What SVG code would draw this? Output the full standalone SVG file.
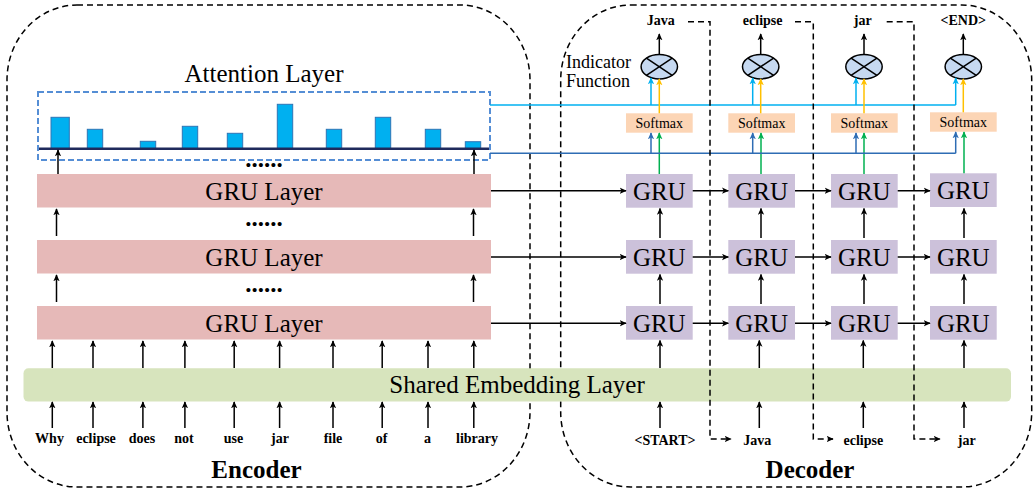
<svg xmlns="http://www.w3.org/2000/svg" width="1036" height="493" viewBox="0 0 1036 493">
<defs>
<style>
.t{font-family:"Liberation Serif","Times New Roman",serif;fill:#000}
.lay{font-size:25px;text-anchor:middle}
.w{font-size:14px;font-weight:bold;text-anchor:middle}
.sm{font-size:14px;text-anchor:middle}
.big{font-size:25px;font-weight:bold;text-anchor:middle}
.dots{font-size:25px;font-weight:bold;text-anchor:middle}
.ln{stroke:#000;stroke-width:1.5;fill:none}
.dash{stroke:#000;stroke-width:1.5;fill:none;stroke-dasharray:6 4}
.bar{fill:#00B0F0;stroke:#2E75B6;stroke-width:1}
.gl{fill:#E6B9B8}
.gru{fill:#CCC1DA}
.sfx{fill:#FCD5B5}
.ind{fill:#C6D9F1;stroke:#000;stroke-width:1.5}
</style>
<marker id="arr" viewBox="0 0 10 10" refX="9" refY="5" markerWidth="7" markerHeight="7" markerUnits="userSpaceOnUse" orient="auto"><path d="M0,0.5 L10,5 L0,9.5 L2.5,5 z" fill="#000"/></marker>
<marker id="arrC" viewBox="0 0 10 10" refX="9" refY="5" markerWidth="7" markerHeight="7" markerUnits="userSpaceOnUse" orient="auto"><path d="M0,0.5 L10,5 L0,9.5 L2.5,5 z" fill="#00B0F0"/></marker>
<marker id="arrO" viewBox="0 0 10 10" refX="9" refY="5" markerWidth="7" markerHeight="7" markerUnits="userSpaceOnUse" orient="auto"><path d="M0,0.5 L10,5 L0,9.5 L2.5,5 z" fill="#FFC000"/></marker>
<marker id="arrB" viewBox="0 0 10 10" refX="9" refY="5" markerWidth="7" markerHeight="7" markerUnits="userSpaceOnUse" orient="auto"><path d="M0,0.5 L10,5 L0,9.5 L2.5,5 z" fill="#2E6DB4"/></marker>
<marker id="arrG" viewBox="0 0 10 10" refX="9" refY="5" markerWidth="7" markerHeight="7" markerUnits="userSpaceOnUse" orient="auto"><path d="M0,0.5 L10,5 L0,9.5 L2.5,5 z" fill="#00B050"/></marker>
</defs>
<rect width="1036" height="493" fill="#fff"/>

<g id="encoder-frame">
<rect x="7" y="5" width="523" height="482" rx="70" ry="75" class="dash"/>
<text class="t big" x="256.5" y="478">Encoder</text>
</g>
<g id="decoder-frame">
<rect x="560.7" y="5" width="471" height="482" rx="70" ry="75" class="dash"/>
<text class="t big" x="810" y="478">Decoder</text>
</g>

<g id="embedding">
<rect x="23.5" y="368.3" width="987.5" height="33.3" rx="5" fill="#D7E4BD"/>
<text class="t lay" x="517" y="393.3" font-size="26.5">Shared Embedding Layer</text>
</g>

<g id="attention">
<text class="t lay" x="264" y="81.5">Attention Layer</text>
<rect class="bar" x="51" y="117.3" width="18.3" height="31.4"/>
<rect class="bar" x="87.3" y="129.3" width="15.4" height="19.4"/>
<rect class="bar" x="140.3" y="141.3" width="15.4" height="7.4"/>
<rect class="bar" x="182.3" y="126.3" width="15.4" height="22.4"/>
<rect class="bar" x="227.3" y="133.3" width="15.4" height="15.4"/>
<rect class="bar" x="277.3" y="104.3" width="15.4" height="44.4"/>
<rect class="bar" x="326.3" y="129.3" width="15.4" height="19.4"/>
<rect class="bar" x="375.3" y="117.3" width="15.4" height="31.4"/>
<rect class="bar" x="425.3" y="129.3" width="15.4" height="19.4"/>
<rect class="bar" x="465.3" y="141.7" width="15.4" height="7"/>
<line x1="38" y1="148.7" x2="490" y2="148.7" stroke="#1F2A5C" stroke-width="2.5"/>
<rect x="38" y="92" width="452" height="68" fill="none" stroke="#558ED5" stroke-width="2" stroke-dasharray="6 3"/>
</g>

<g id="gru-layer-1">
<rect class="gl" x="37" y="174" width="454" height="33.5"/>
<text class="t lay" x="264" y="200">GRU Layer</text>
</g>
<g id="gru-layer-2">
<rect class="gl" x="37" y="240" width="454" height="33.5"/>
<text class="t lay" x="264" y="266">GRU Layer</text>
</g>
<g id="gru-layer-3">
<rect class="gl" x="37" y="306" width="454" height="33.5"/>
<text class="t lay" x="264" y="332">GRU Layer</text>
</g>
<g id="ellipsis">
<text class="t dots" x="264" y="167">......</text>
<text class="t dots" x="264" y="225.5">......</text>
<text class="t dots" x="264" y="291.5">......</text>
</g>

<g id="enc-words">
<text class="t w" x="49.5" y="443">Why</text>
<text class="t w" x="96" y="443">eclipse</text>
<text class="t w" x="142" y="443">does</text>
<text class="t w" x="184" y="443">not</text>
<text class="t w" x="233.5" y="443">use</text>
<text class="t w" x="280" y="443">jar</text>
<text class="t w" x="333" y="443">file</text>
<text class="t w" x="381.5" y="443">of</text>
<text class="t w" x="427.5" y="443">a</text>
<text class="t w" x="477" y="443">library</text>
</g>

<g id="dec-gru">
<rect class="gru" x="626" y="174" width="66.7" height="33.7"/><text class="t lay" x="659.3" y="199.5">GRU</text>
<rect class="gru" x="728.3" y="174" width="66.7" height="33.7"/><text class="t lay" x="761.7" y="199.5">GRU</text>
<rect class="gru" x="831" y="174" width="66.7" height="33.7"/><text class="t lay" x="864.3" y="199.5">GRU</text>
<rect class="gru" x="930" y="173.3" width="66.7" height="33.7"/><text class="t lay" x="963.3" y="199">GRU</text>
<rect class="gru" x="626" y="240" width="66.7" height="33.7"/><text class="t lay" x="659.3" y="265.5">GRU</text>
<rect class="gru" x="728.3" y="240" width="66.7" height="33.7"/><text class="t lay" x="761.7" y="265.5">GRU</text>
<rect class="gru" x="831" y="240" width="66.7" height="33.7"/><text class="t lay" x="864.3" y="265.5">GRU</text>
<rect class="gru" x="930" y="240" width="66.7" height="33.7"/><text class="t lay" x="963.3" y="265.5">GRU</text>
<rect class="gru" x="626" y="306" width="66.7" height="33.7"/><text class="t lay" x="659.3" y="331.5">GRU</text>
<rect class="gru" x="728.3" y="306" width="66.7" height="33.7"/><text class="t lay" x="761.7" y="331.5">GRU</text>
<rect class="gru" x="831" y="306" width="66.7" height="33.7"/><text class="t lay" x="864.3" y="331.5">GRU</text>
<rect class="gru" x="930" y="306" width="66.7" height="33.7"/><text class="t lay" x="963.3" y="331.5">GRU</text>
</g>

<g id="softmax">
<rect class="sfx" x="626" y="113.3" width="66.7" height="19.4"/><text class="t sm" x="659.3" y="128">Softmax</text>
<rect class="sfx" x="728.3" y="113.3" width="66.7" height="19.4"/><text class="t sm" x="761.7" y="128">Softmax</text>
<rect class="sfx" x="831" y="113.3" width="66.7" height="19.4"/><text class="t sm" x="864.3" y="128">Softmax</text>
<rect class="sfx" x="930" y="112.3" width="66.7" height="19.4"/><text class="t sm" x="963.3" y="127">Softmax</text>
</g>

<g id="indicators">
<text class="t" x="566" y="68" font-size="18">Indicator</text>
<text class="t" x="566" y="86.5" font-size="18">Function</text>
<g><ellipse class="ind" cx="659.3" cy="66.7" rx="18.2" ry="12.2"/><path class="ln" d="M646.4,58.1 L672.2,75.3 M646.4,75.3 L672.2,58.1"/></g>
<g><ellipse class="ind" cx="760.7" cy="66.7" rx="18.2" ry="12.2"/><path class="ln" d="M747.8,58.1 L773.6,75.3 M747.8,75.3 L773.6,58.1"/></g>
<g><ellipse class="ind" cx="864" cy="66.7" rx="18.2" ry="12.2"/><path class="ln" d="M851.1,58.1 L876.9,75.3 M851.1,75.3 L876.9,58.1"/></g>
<g><ellipse class="ind" cx="963.3" cy="66.7" rx="18.2" ry="12.2"/><path class="ln" d="M950.4,58.1 L976.2,75.3 M950.4,75.3 L976.2,58.1"/></g>
</g>

<g id="dec-words">
<text class="t w" x="660.7" y="25">Java</text>
<text class="t w" x="762.7" y="25">eclipse</text>
<text class="t w" x="862.7" y="25">jar</text>
<text class="t w" x="963.3" y="25">&lt;END&gt;</text>
<text class="t w" x="665" y="445">&lt;START&gt;</text>
<text class="t w" x="757.3" y="445">Java</text>
<text class="t w" x="863.3" y="445">eclipse</text>
<text class="t w" x="966.7" y="445">jar</text>
</g>

<g id="connectors">
<line class="ln" x1="58" y1="174" x2="58" y2="150" marker-end="url(#arr)"/>
<line class="ln" x1="474" y1="174" x2="474" y2="150" marker-end="url(#arr)"/>
<line class="ln" x1="56.5" y1="236" x2="56.5" y2="209" marker-end="url(#arr)"/>
<line class="ln" x1="473.5" y1="236" x2="473.5" y2="209" marker-end="url(#arr)"/>
<line class="ln" x1="56.5" y1="302" x2="56.5" y2="275" marker-end="url(#arr)"/>
<line class="ln" x1="473.5" y1="302" x2="473.5" y2="275" marker-end="url(#arr)"/>
<line class="ln" x1="52.3" y1="368" x2="52.3" y2="341" marker-end="url(#arr)"/>
<line class="ln" x1="93" y1="368" x2="93" y2="341" marker-end="url(#arr)"/>
<line class="ln" x1="142.9" y1="368" x2="142.9" y2="341" marker-end="url(#arr)"/>
<line class="ln" x1="184.9" y1="368" x2="184.9" y2="341" marker-end="url(#arr)"/>
<line class="ln" x1="234.2" y1="368" x2="234.2" y2="341" marker-end="url(#arr)"/>
<line class="ln" x1="279.6" y1="368" x2="279.6" y2="341" marker-end="url(#arr)"/>
<line class="ln" x1="333" y1="368" x2="333" y2="341" marker-end="url(#arr)"/>
<line class="ln" x1="382.2" y1="368" x2="382.2" y2="341" marker-end="url(#arr)"/>
<line class="ln" x1="428" y1="368" x2="428" y2="341" marker-end="url(#arr)"/>
<line class="ln" x1="473.8" y1="368" x2="473.8" y2="341" marker-end="url(#arr)"/>
<line class="ln" x1="52.3" y1="428" x2="52.3" y2="402" marker-end="url(#arr)"/>
<line class="ln" x1="93" y1="428" x2="93" y2="402" marker-end="url(#arr)"/>
<line class="ln" x1="142.9" y1="428" x2="142.9" y2="402" marker-end="url(#arr)"/>
<line class="ln" x1="184.9" y1="428" x2="184.9" y2="402" marker-end="url(#arr)"/>
<line class="ln" x1="234.2" y1="428" x2="234.2" y2="402" marker-end="url(#arr)"/>
<line class="ln" x1="279.6" y1="428" x2="279.6" y2="402" marker-end="url(#arr)"/>
<line class="ln" x1="333" y1="428" x2="333" y2="402" marker-end="url(#arr)"/>
<line class="ln" x1="382.2" y1="428" x2="382.2" y2="402" marker-end="url(#arr)"/>
<line class="ln" x1="428" y1="428" x2="428" y2="402" marker-end="url(#arr)"/>
<line class="ln" x1="473.8" y1="428" x2="473.8" y2="402" marker-end="url(#arr)"/>
<line class="ln" x1="491" y1="190.7" x2="626" y2="190.7" marker-end="url(#arr)"/>
<line class="ln" x1="491" y1="257" x2="626" y2="257" marker-end="url(#arr)"/>
<line class="ln" x1="491" y1="323.3" x2="626" y2="323.3" marker-end="url(#arr)"/>
<line class="ln" x1="692.7" y1="190.7" x2="728.3" y2="190.7" marker-end="url(#arr)"/>
<line class="ln" x1="795" y1="190.7" x2="831" y2="190.7" marker-end="url(#arr)"/>
<line class="ln" x1="897.7" y1="190.7" x2="930" y2="190.7" marker-end="url(#arr)"/>
<line class="ln" x1="692.7" y1="257" x2="728.3" y2="257" marker-end="url(#arr)"/>
<line class="ln" x1="795" y1="257" x2="831" y2="257" marker-end="url(#arr)"/>
<line class="ln" x1="897.7" y1="257" x2="930" y2="257" marker-end="url(#arr)"/>
<line class="ln" x1="692.7" y1="323.3" x2="728.3" y2="323.3" marker-end="url(#arr)"/>
<line class="ln" x1="795" y1="323.3" x2="831" y2="323.3" marker-end="url(#arr)"/>
<line class="ln" x1="897.7" y1="323.3" x2="930" y2="323.3" marker-end="url(#arr)"/>
<line class="ln" x1="660" y1="238" x2="660" y2="208.5" marker-end="url(#arr)"/>
<line class="ln" x1="761" y1="238" x2="761" y2="208.5" marker-end="url(#arr)"/>
<line class="ln" x1="864" y1="238" x2="864" y2="208.5" marker-end="url(#arr)"/>
<line class="ln" x1="964" y1="238" x2="964" y2="208.5" marker-end="url(#arr)"/>
<line class="ln" x1="660" y1="304" x2="660" y2="274.5" marker-end="url(#arr)"/>
<line class="ln" x1="761" y1="304" x2="761" y2="274.5" marker-end="url(#arr)"/>
<line class="ln" x1="864" y1="304" x2="864" y2="274.5" marker-end="url(#arr)"/>
<line class="ln" x1="964" y1="304" x2="964" y2="274.5" marker-end="url(#arr)"/>
<line class="ln" x1="660" y1="368" x2="660" y2="340.5" marker-end="url(#arr)"/>
<line class="ln" x1="759.3" y1="368" x2="759.3" y2="340.5" marker-end="url(#arr)"/>
<line class="ln" x1="863.3" y1="368" x2="863.3" y2="340.5" marker-end="url(#arr)"/>
<line class="ln" x1="964" y1="368" x2="964" y2="340.5" marker-end="url(#arr)"/>
<line class="ln" x1="660" y1="428" x2="660" y2="402" marker-end="url(#arr)"/>
<line class="ln" x1="759.3" y1="428" x2="759.3" y2="402" marker-end="url(#arr)"/>
<line class="ln" x1="863.3" y1="428" x2="863.3" y2="402" marker-end="url(#arr)"/>
<line class="ln" x1="964" y1="428" x2="964" y2="402" marker-end="url(#arr)"/>
<line x1="659.3" y1="174" x2="659.3" y2="133" stroke="#00B050" stroke-width="1.5" marker-end="url(#arrG)"/>
<line x1="761" y1="174" x2="761" y2="133" stroke="#00B050" stroke-width="1.5" marker-end="url(#arrG)"/>
<line x1="864" y1="174" x2="864" y2="133" stroke="#00B050" stroke-width="1.5" marker-end="url(#arrG)"/>
<line x1="964" y1="173.3" x2="964" y2="132" stroke="#00B050" stroke-width="1.5" marker-end="url(#arrG)"/>
<polyline points="490,153.3 955.7,153.3" fill="none" stroke="#2E6DB4" stroke-width="1.5"/>
<line x1="651" y1="153.3" x2="651" y2="133" stroke="#2E6DB4" stroke-width="1.5" marker-end="url(#arrB)"/>
<line x1="752.7" y1="153.3" x2="752.7" y2="133" stroke="#2E6DB4" stroke-width="1.5" marker-end="url(#arrB)"/>
<line x1="856" y1="153.3" x2="856" y2="133" stroke="#2E6DB4" stroke-width="1.5" marker-end="url(#arrB)"/>
<line x1="955.7" y1="153.3" x2="955.7" y2="132" stroke="#2E6DB4" stroke-width="1.5" marker-end="url(#arrB)"/>
<polyline points="490,105 955.7,105" fill="none" stroke="#00B0F0" stroke-width="1.5"/>
<line x1="651" y1="105" x2="651" y2="78" stroke="#00B0F0" stroke-width="1.5" marker-end="url(#arrC)"/>
<line x1="752.7" y1="105" x2="752.7" y2="78" stroke="#00B0F0" stroke-width="1.5" marker-end="url(#arrC)"/>
<line x1="856" y1="105" x2="856" y2="78" stroke="#00B0F0" stroke-width="1.5" marker-end="url(#arrC)"/>
<line x1="955.7" y1="105" x2="955.7" y2="78" stroke="#00B0F0" stroke-width="1.5" marker-end="url(#arrC)"/>
<line x1="659.3" y1="113.3" x2="659.3" y2="79" stroke="#FFC000" stroke-width="1.5" marker-end="url(#arrO)"/>
<line x1="760.7" y1="113.3" x2="760.7" y2="79" stroke="#FFC000" stroke-width="1.5" marker-end="url(#arrO)"/>
<line x1="864" y1="113.3" x2="864" y2="79" stroke="#FFC000" stroke-width="1.5" marker-end="url(#arrO)"/>
<line x1="963.3" y1="112.3" x2="963.3" y2="79" stroke="#FFC000" stroke-width="1.5" marker-end="url(#arrO)"/>
<line class="ln" x1="659.3" y1="54.5" x2="659.3" y2="34" marker-end="url(#arr)"/>
<line class="ln" x1="760.7" y1="54.5" x2="760.7" y2="34" marker-end="url(#arr)"/>
<line class="ln" x1="864" y1="54.5" x2="864" y2="34" marker-end="url(#arr)"/>
<line class="ln" x1="963.3" y1="54.5" x2="963.3" y2="34" marker-end="url(#arr)"/>
<path class="dash" d="M688,21.7 H710 V439 H731" marker-end="url(#arr)"/>
<path class="dash" d="M795,21.7 H813.3 V439 H833" marker-end="url(#arr)"/>
<path class="dash" d="M886.7,21.7 H914 V439 H940" marker-end="url(#arr)"/>
</g>
</svg>
